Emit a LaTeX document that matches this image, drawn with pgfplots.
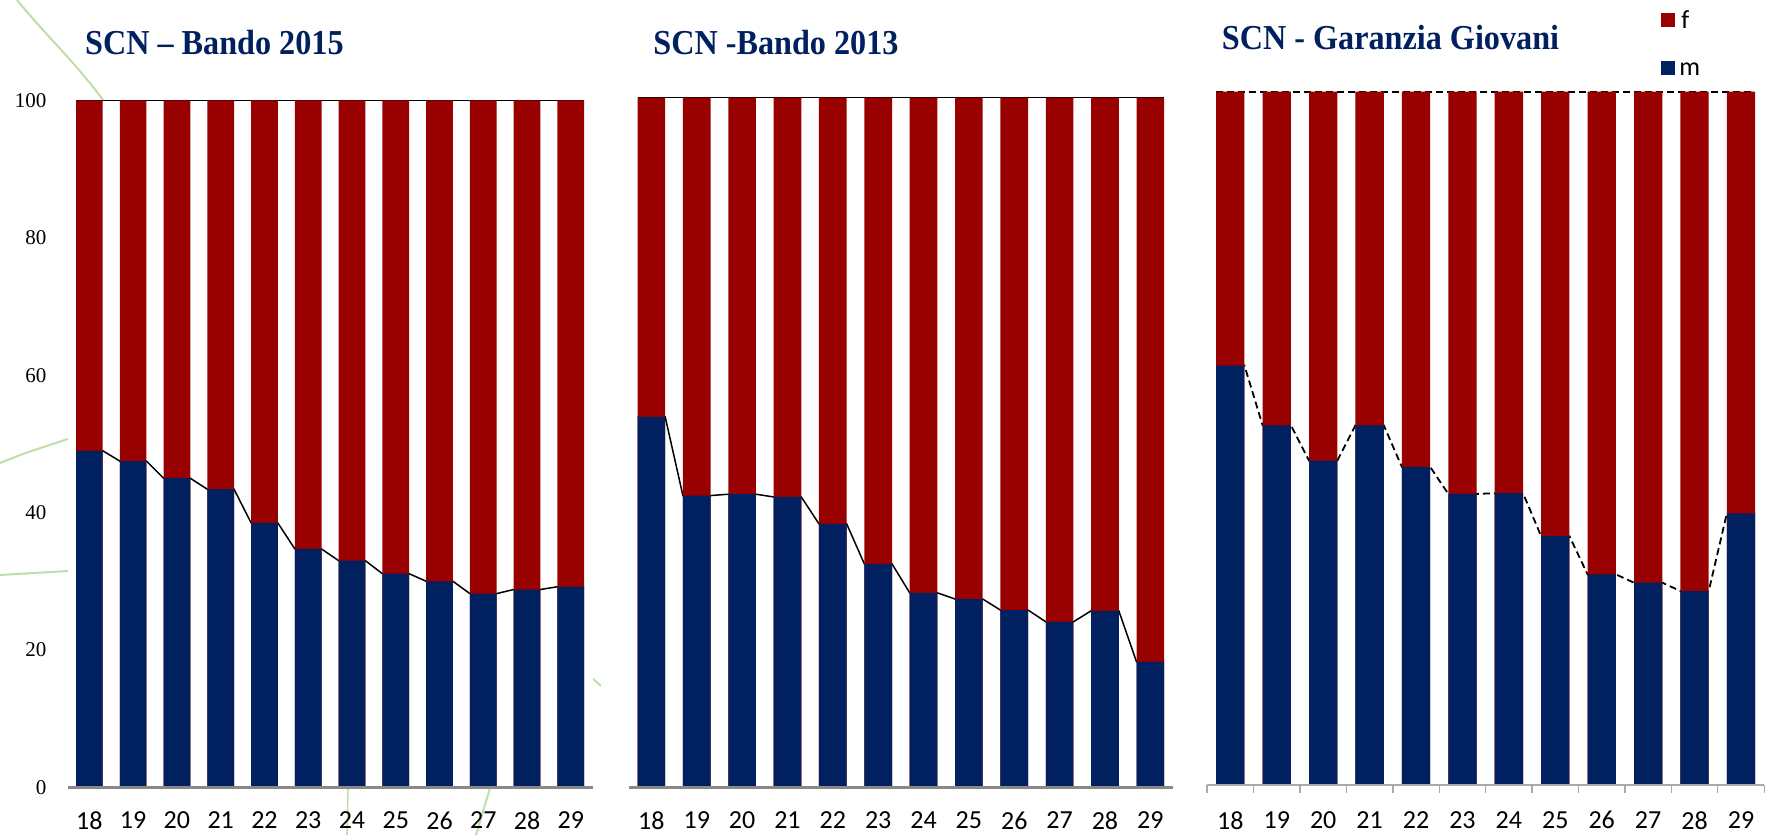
\documentclass[border=0pt]{standalone}
\usepackage{pgfplots}
\pgfplotsset{compat=1.18}
\usepackage{pgfplotstable}
\usepackage{fontspec}
\setmainfont{Carlito}
\newfontfamily\titlefont[FakeStretch=0.92]{Liberation Serif}
\newfontfamily\numfont{Liberation Serif}

\definecolor{navy}{RGB}{0,32,96}
\definecolor{dred}{RGB}{153,0,0}
\definecolor{axgray}{RGB}{137,137,137}
\definecolor{axgrayl}{RGB}{170,170,170}
\definecolor{deco}{RGB}{190,222,170}

% share (%) of males (m) and females (f) by age
\pgfplotstableread{
age m f
18 49.0 51.0
19 47.5 52.5
20 45.0 55.0
21 43.4 56.6
22 38.5 61.5
23 34.7 65.3
24 33.0 67.0
25 31.1 68.9
26 30.0 70.0
27 28.2 71.8
28 28.8 71.2
29 29.2 70.8
}\tabA
\pgfplotstableread{
age m f
18 53.7 46.3
19 42.3 57.7
20 42.5 57.5
21 42.1 57.9
22 38.2 61.8
23 32.4 67.6
24 28.2 71.8
25 27.3 72.7
26 25.7 74.3
27 24.0 76.0
28 25.6 74.4
29 18.2 81.8
}\tabB
\pgfplotstableread{
age m f
18 60.5 39.5
19 51.9 48.1
20 46.8 53.2
21 51.9 48.1
22 45.9 54.1
23 42.0 58.0
24 42.1 57.9
25 35.9 64.1
26 30.4 69.6
27 29.2 70.8
28 28.0 72.0
29 39.2 60.8
}\tabC

\pgfplotsset{
  panel/.style={
    scale only axis, anchor=south west,
    xmin=17.5, xmax=29.5, ymin=0, ymax=100,
    axis line style={draw=none},
    axis background/.style={fill=white},
    xtick={18,...,29}, ytick=\empty,
    major tick length=0pt,
    clip=false,
    /pgf/number format/assume math mode=true,
    ticklabel style={font=\fontsize{13}{13}\selectfont, text=black},
    xticklabel style={anchor=center, inner sep=0pt, yshift=-16.6pt},
    bar width=0.61,
  },
  fbar/.style={ybar, bar shift=0pt, fill=dred, draw=none},
  mbar/.style={ybar, bar shift=0pt, fill=navy, draw=none},
  sline/.style={sharp plot, mark=none, black, line width=0.75pt, forget plot},
}

\begin{document}
\begin{tikzpicture}
\useasboundingbox (0,0) rectangle (885.5pt,417.5pt);

% background decoration (pixel coordinates)
\begin{scope}[x=0.5pt, y=-0.5pt, shift={(0pt,417.5pt)}]
  \draw[deco, line width=1pt] (17,0) .. controls (50,40) and (75,62) .. (103,100);
  \draw[deco, line width=1pt] (0,463) .. controls (25,453) .. (68,439);
  \draw[deco, line width=1pt] (0,575) -- (68,571);
  \draw[deco, line width=0.8pt] (348,788) -- (347,835);
  \draw[deco, line width=1pt] (490,788) -- (476,835);
  \draw[deco, line width=1pt] (592,678) -- (601,686);
\end{scope}

% ---------- SCN - Bando 2015 ----------
\begin{axis}[panel, at={(33.75pt,23.85pt)}, width=262.6pt, height=343.4pt,
  ytick={0,20,...,100}, ytick pos=left,
  yticklabel style={font=\numfont\fontsize{10.5}{10.5}\selectfont, anchor=east, inner sep=0pt, xshift=-10.4pt}]
  \addplot[sline] coordinates {(17.695,100) (29.305,100)};
  \addplot[sline] coordinates {
    (17.695,49.0) (18.305,49.0) (18.695,47.5) (19.305,47.5)
    (19.695,45.0) (20.305,45.0) (20.695,43.4) (21.305,43.4)
    (21.695,38.5) (22.305,38.5) (22.695,34.7) (23.305,34.7)
    (23.695,33.0) (24.305,33.0) (24.695,31.1) (25.305,31.1)
    (25.695,30.0) (26.305,30.0) (26.695,28.2) (27.305,28.2)
    (27.695,28.8) (28.305,28.8) (28.695,29.2) (29.305,29.2)};
  \addplot[fbar] table[x=age, y expr=\thisrow{m}+\thisrow{f}] {\tabA};
  \addplot[mbar] table[x=age, y=m] {\tabA};
  \draw[axgray, line width=1.25pt] (axis cs:17.5,0) -- (axis cs:29.5,0);
\end{axis}

% ---------- SCN - Bando 2013 ----------
\begin{axis}[panel, at={(314.35pt,23.85pt)}, width=272.15pt, height=344.8pt]
  \addplot[sline] coordinates {(17.695,100) (29.305,100)};
  \addplot[sline] coordinates {
    (17.695,53.7) (18.305,53.7) (18.695,42.3) (19.305,42.3)
    (19.695,42.5) (20.305,42.5) (20.695,42.1) (21.305,42.1)
    (21.695,38.2) (22.305,38.2) (22.695,32.4) (23.305,32.4)
    (23.695,28.2) (24.305,28.2) (24.695,27.3) (25.305,27.3)
    (25.695,25.7) (26.305,25.7) (26.695,24.0) (27.305,24.0)
    (27.695,25.6) (28.305,25.6) (28.695,18.2) (29.305,18.2)};
  \addplot[fbar] table[x=age, y expr=\thisrow{m}+\thisrow{f}] {\tabB};
  \addplot[mbar] table[x=age, y=m] {\tabB};
  \draw[axgray, line width=1.25pt] (axis cs:17.5,0) -- (axis cs:29.5,0);
\end{axis}

% ---------- SCN - Garanzia Giovani ----------
\begin{axis}[panel, at={(603.55pt,24.9pt)}, width=278.55pt, height=346.75pt,
  xticklabel style={yshift=-0.95pt},
  minor xtick={17.5,18.5,...,29.5}, xtick pos=left, tick align=outside,
  minor tick length=4pt, minor tick style={axgrayl, line width=0.7pt}]
  \addplot[sline, line width=0.9pt, dash pattern=on 3.5pt off 2pt] coordinates {(17.695,100) (29.305,100)};
  \addplot[sline, line width=0.9pt, dash pattern=on 3.5pt off 2pt] coordinates {
    (17.695,60.5) (18.305,60.5) (18.695,51.9) (19.305,51.9)
    (19.695,46.8) (20.305,46.8) (20.695,51.9) (21.305,51.9)
    (21.695,45.9) (22.305,45.9) (22.695,42.0) (23.305,42.0)
    (23.695,42.1) (24.305,42.1) (24.695,35.9) (25.305,35.9)
    (25.695,30.4) (26.305,30.4) (26.695,29.2) (27.305,29.2)
    (27.695,28.0) (28.305,28.0) (28.695,39.2) (29.305,39.2)};
  \addplot[fbar] table[x=age, y expr=\thisrow{m}+\thisrow{f}] {\tabC};
  \addplot[mbar] table[x=age, y=m] {\tabC};
  \draw[axgrayl, line width=1.2pt] (axis cs:17.5,0) -- (axis cs:29.5,0);
\end{axis}

% titles and legend (pixel coordinates)
\begin{scope}[x=0.5pt, y=-0.5pt, shift={(0pt,417.5pt)}]
  \tikzset{ttl/.style={anchor=base west, inner sep=0pt, text=navy,
      font=\titlefont\bfseries\fontsize{17.5}{20}\selectfont}}
  \node[ttl] at (84.7,55) {SCN – Bando 2015};
  \node[ttl] at (653,55) {SCN -Bando 2013};
  \node[ttl] at (1221.5,50) {SCN - Garanzia Giovani};
  \fill[dred] (1660.5,13.5) rectangle (1675,27.5);
  \node[anchor=west, inner sep=0pt, font=\fontsize{13}{13}\selectfont] at (1681,20) {f};
  \fill[navy] (1660.5,61.5) rectangle (1675,75.5);
  \node[anchor=west, inner sep=0pt, font=\fontsize{13}{13}\selectfont] at (1679,69) {m};
\end{scope}
\end{tikzpicture}
\end{document}
